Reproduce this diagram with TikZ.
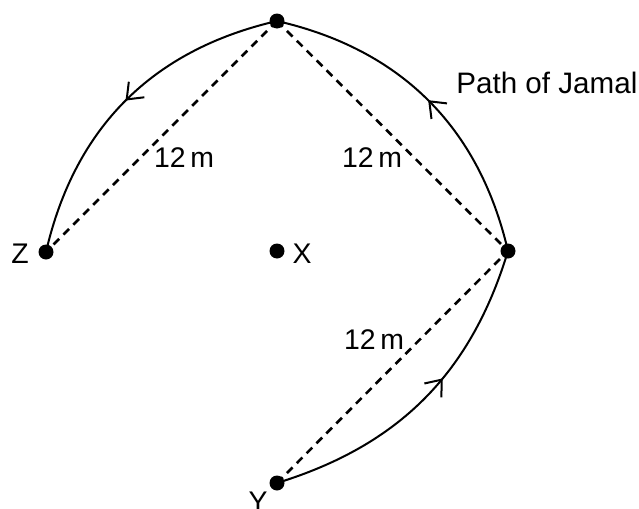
\documentclass[tikz,border=0pt]{standalone}
\usepackage{fontspec}
\setmainfont{Liberation Sans}
\usetikzlibrary{arrows.meta,decorations.markings}
\tikzset{
  dotnode/.style={circle,fill=black,inner sep=0pt,minimum size=7.5pt},
  pathline/.style={line width=1pt,
    postaction={decorate,decoration={markings,
      mark=at position #1 with {\arrow{Straight Barb[length=7pt,width=11pt,line width=1pt]}}}}},
  dashline/.style={line width=1.3pt,dash pattern=on 4pt off 3pt},
  lbl/.style={font=\fontsize{14.2}{16}\selectfont,inner sep=0pt,anchor=base},
}
\begin{document}
\begin{tikzpicture}[x=0.5pt,y=-0.5pt]
\useasboundingbox (0,0) rectangle (639,509);
\coordinate (T) at (277,21);
\coordinate (Z) at (46,252);
\coordinate (X) at (277,251);
\coordinate (R) at (508,251);
\coordinate (Y) at (277,483);
% dashed radii
\draw[dashline] (T) -- (Z);
\draw[dashline] (T) -- (R);
\draw[dashline] (Y) -- (R);
% path of Jamal
\draw[pathline=0.58] (Y) to[bend right=28] (R);
\draw[pathline=0.5] (R) to[bend right=32] (T);
\draw[pathline=0.5] (T) to[bend right=32] (Z);
% dots
\node[dotnode] (dT) at (T) {};
\node[dotnode] (dZ) at (Z) {};
\node[dotnode] (dX) at (X) {};
\node[dotnode] (dR) at (R) {};
\node[dotnode] (dY) at (Y) {};
% labels
\node[lbl] (lZ) at (20,263) {Z};
\node[lbl] (lX) at (302,263) {X};
\node[lbl] (lY) at (258,511) {Y};
\node[lbl] (m1) at (184,167) {12\,m};
\node[lbl] (m2) at (372,167) {12\,m};
\node[lbl] (m3) at (374,349) {12\,m};
\node[lbl,anchor=base west,font=\fontsize{14.8}{17}\selectfont] (pj) at (456,93) {Path of Jamal};
\end{tikzpicture}
\end{document}
